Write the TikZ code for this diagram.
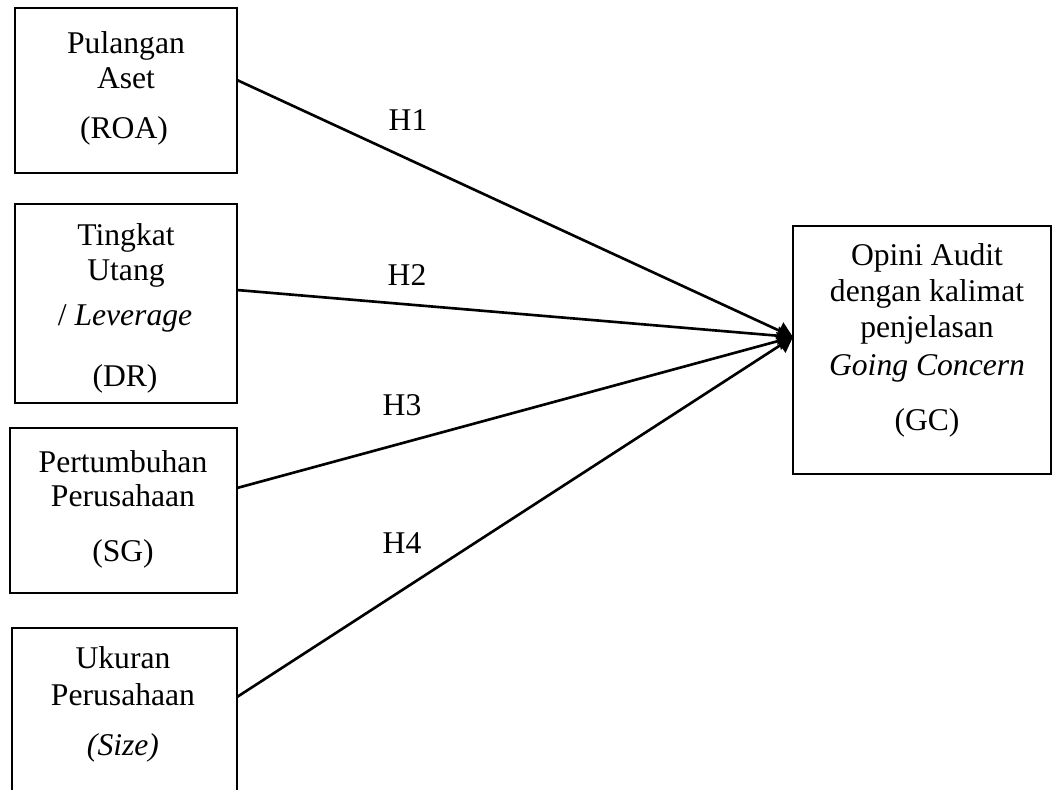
\documentclass[tikz,border=0pt]{standalone}
\usepackage{fontspec}
\setmainfont{Liberation Serif}
\usetikzlibrary{arrows.meta}
\tikzset{
  box/.style={draw, line width=1.1pt, inner sep=0pt, outer sep=0pt},
  txt/.style={anchor=base, inner sep=0pt, font=\fontsize{18}{21}\selectfont},
  hyp/.style={anchor=base, inner sep=0pt, font=\fontsize{18}{21}\selectfont},
  conn/.style={line width=1.5pt, -{Triangle[length=0.3cm, width=0.36cm]}}
}
\begin{document}
\begin{tikzpicture}[x=0.02cm, y=-0.02cm]
\useasboundingbox (0,0) rectangle (1054,789);
\clip (0,0) rectangle (1054,789);
% boxes
\node[box, minimum width=4.44cm, minimum height=3.30cm] (b1) at (126,90.5) {};
\node[box, minimum width=4.44cm, minimum height=3.98cm] (b2) at (126,303.5) {};
\node[box, minimum width=4.54cm, minimum height=3.30cm] (b3) at (123.5,510.5) {};
\node[box, minimum width=4.50cm, minimum height=4.44cm] (b4) at (124.5,739) {};
\node[box, minimum width=5.16cm, minimum height=4.96cm] (gc) at (922,350) {};
% texts box 1
\node[txt] (b1a) at (126,53) {Pulangan};
\node[txt] (b1b) at (126,88) {Aset};
\node[txt] (b1c) at (124,138) {(ROA)};
% texts box 2
\node[txt] (b2a) at (126,245) {Tingkat};
\node[txt] (b2b) at (126,280) {Utang};
\node[txt] (b2c) at (125,325) {/ \textit{Leverage}};
\node[txt] (b2d) at (125,386) {(DR)};
% texts box 3
\node[txt] (b3a) at (123,472) {Pertumbuhan};
\node[txt] (b3b) at (123,506) {Perusahaan};
\node[txt] (b3c) at (123,561) {(SG)};
% texts box 4
\node[txt] (b4a) at (123,668) {Ukuran};
\node[txt] (b4b) at (123,705) {Perusahaan};
\node[txt] (b4c) at (123,755) {\textit{(Size)}};
% texts right box
\node[txt] (g1) at (927,265) {Opini Audit};
\node[txt] (g2) at (927,301) {dengan kalimat};
\node[txt] (g3) at (927,337) {penjelasan};
\node[txt] (g4) at (927,375) {\textit{Going Concern}};
\node[txt] (g5) at (927,430) {(GC)};
% connector endpoints
\coordinate (s1) at (237,80);
\coordinate (s2) at (237,290);
\coordinate (s3) at (237,488);
\coordinate (s4) at (237,697);
\coordinate (tip) at (793,337);
\draw[conn] (s1) -- (tip);
\draw[conn] (s2) -- (tip);
\draw[conn] (s3) -- (tip);
\draw[conn] (s4) -- (tip);
% hypothesis labels
\node[hyp] (h1) at (408,130) {H1};
\node[hyp] (h2) at (407,285) {H2};
\node[hyp] (h3) at (402,415) {H3};
\node[hyp] (h4) at (402,553) {H4};
\end{tikzpicture}
\end{document}
